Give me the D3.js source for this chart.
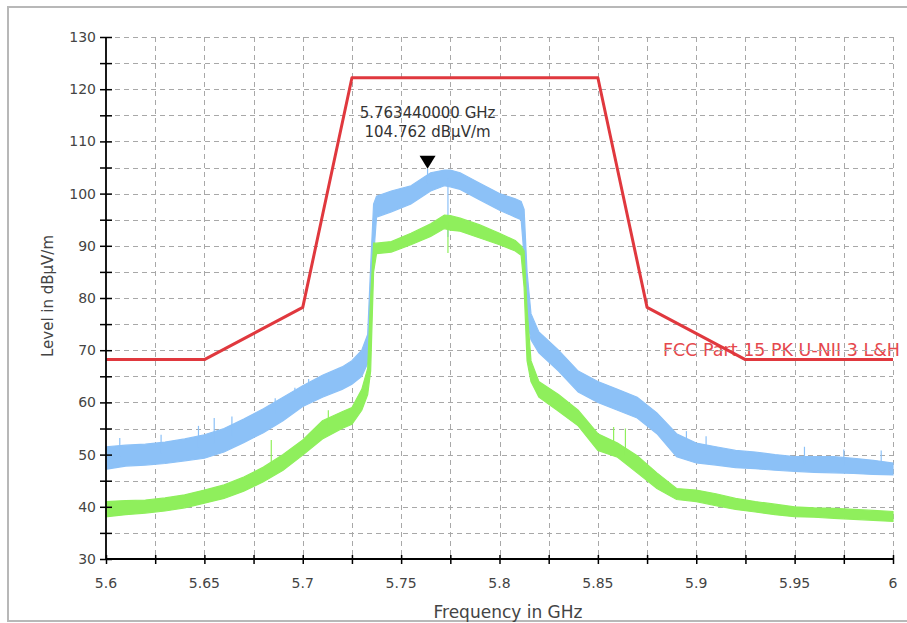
<!DOCTYPE html>
<html><head><meta charset="utf-8">
<script src="https://cdn.jsdelivr.net/npm/d3@7"></script>
<style>html,body{margin:0;padding:0;background:#fff;}svg{display:block;}</style>
</head><body>
<svg id="chart" width="907" height="623"></svg>
<script>
// ---- data ----
const freq = [5.600,5.610,5.620,5.630,5.640,5.650,5.660,5.670,5.680,5.690,5.700,5.710,5.720,5.725,5.730,5.733,5.7345,5.736,5.7375,5.745,5.755,5.765,5.772,5.775,5.780,5.790,5.800,5.808,5.811,5.8125,5.814,5.816,5.820,5.830,5.840,5.850,5.860,5.870,5.880,5.890,5.900,5.910,5.920,5.930,5.940,5.950,5.960,5.970,5.980,5.990,6.000];
const blueLo = [47.2,47.8,48.0,48.3,48.8,49.3,50.5,52.3,54.2,56.5,59.2,61.0,62.5,63.5,65.0,67.5,72.0,88.0,95.5,96.5,98.0,100.5,101.5,101.3,100.8,98.8,96.8,95.5,95.0,88.0,76.0,72.0,69.5,66.0,62.0,60.0,58.5,57.0,54.0,49.6,48.4,48.0,47.5,47.3,47.0,46.8,46.6,46.5,46.4,46.2,46.1];
const blueHi = [51.5,51.8,52.0,52.4,53.0,53.8,55.0,56.8,58.8,61.0,63.2,65.2,66.8,68.0,70.0,73.0,86.0,98.0,99.5,100.5,101.5,104.0,104.5,104.5,104.0,102.0,100.0,99.0,98.5,97.0,85.0,77.0,73.5,70.0,66.0,64.0,62.5,61.0,58.0,54.0,52.2,51.5,50.8,50.5,50.0,49.6,49.6,49.6,49.3,48.9,48.4];
const greenLo = [38.1,38.5,38.8,39.2,39.8,40.7,41.6,43.0,44.8,47.0,49.9,53.0,55.0,55.8,58.5,61.5,66.0,85.0,88.5,88.8,90.2,91.8,93.3,93.0,92.8,91.5,90.2,89.0,88.2,82.0,68.0,64.0,61.0,58.3,55.5,50.8,49.5,46.5,43.5,41.4,41.0,40.2,39.5,39.0,38.5,38.1,38.0,37.8,37.6,37.4,37.2];
const greenHi = [41.0,41.2,41.3,41.7,42.3,43.2,44.2,45.7,47.6,50.0,52.8,56.5,58.2,59.0,62.5,66.5,80.0,90.5,90.5,90.8,92.4,94.2,95.9,95.8,95.3,94.0,92.4,91.0,90.0,89.0,78.0,68.0,64.0,61.5,58.5,54.0,52.2,49.8,46.5,43.5,43.2,42.5,41.6,41.0,40.5,40.0,39.8,39.7,39.5,39.3,39.1];
// isolated spikes: [frequency, extreme value]
const blueSpikes = [[5.607,53.2],[5.628,53.8],[5.647,55.5],[5.655,57.0],[5.664,57.3],[5.686,60.8],[5.696,62.8],[5.703,64.5],[5.76344,104.762],[5.7738,91.7],[5.895,54.5],[5.905,53.5],[5.955,51.5],[5.975,51.0],[5.994,50.8]];
const greenSpikes = [[5.684,52.8],[5.713,58.5],[5.7738,88.6],[5.858,55.3],[5.864,55.0]];
// FCC limit line
const limitFreq = [5.600,5.650,5.700,5.725,5.850,5.875,5.925,6.000];
const limitVal  = [68.2,68.2,78.2,122.2,122.2,78.2,68.2,68.2];
const limitName = "FCC Part 15 PK U-NII 3 L&H";
const marker = {f:5.76344, v:104.762, line1:"5.763440000 GHz", line2:"104.762 dBµV/m"};
const xTickLabels = [5.6,5.65,5.7,5.75,5.8,5.85,5.9,5.95,6];
const yTickLabels = [30,40,50,60,70,80,90,100,110,120,130];
const xTitle = "Frequency in GHz";
const yTitle = "Level in dBµV/m";

// ---- layout ----
const L=106, R=893, T=37, B=559;
const svg = d3.select("#chart");
const x = d3.scaleLinear().domain([5.6,6.0]).range([L,R]);
const y = d3.scaleLinear().domain([30,130]).range([B,T]);
const FONT = "DejaVu Sans, sans-serif";

// frame
svg.append("rect").attr("x",8).attr("y",7).attr("width",1000).attr("height",614)
  .attr("fill","#fff").attr("stroke","#b8b8b8").attr("stroke-width",2);

// limit label (under grid)
svg.append("text").attr("x",663).attr("y",356).text(limitName)
  .attr("font-family",FONT).attr("font-size",17.5).attr("fill","#e5484d");

// grid
const gx = d3.range(0,17).map(i=>5.6+i*0.025);
const gy = d3.range(0,21).map(i=>30+i*5);
const grid = svg.append("g").attr("stroke","#a8a8a8").attr("stroke-width",1).attr("stroke-dasharray","5,4");
grid.selectAll("line.v").data(gx.slice(1)).join("line")
  .attr("x1",d=>Math.round(x(d))+0.5).attr("x2",d=>Math.round(x(d))+0.5).attr("y1",T).attr("y2",B);
grid.selectAll("line.h").data(gy.slice(1)).join("line").attr("class","h")
  .attr("y1",d=>Math.round(y(d))+0.5).attr("y2",d=>Math.round(y(d))+0.5).attr("x1",L).attr("x2",R);

// traces
function band(lo,hi,color){
  const idx = d3.range(freq.length);
  const area = d3.area().x(i=>x(freq[i])).y0(i=>y(lo[i])).y1(i=>y(hi[i]));
  svg.append("path").attr("d",area(idx)).attr("fill",color).attr("stroke",color).attr("stroke-width",1.2);
}
function spikes(list,lo,hi,color){
  svg.append("g").selectAll("line").data(list).join("line")
    .attr("x1",d=>x(d[0])).attr("x2",d=>x(d[0]))
    .attr("y1",d=>{const m=(d3.scaleLinear().domain(freq).range(lo)(d[0])+d3.scaleLinear().domain(freq).range(hi)(d[0]))/2;return y(m);})
    .attr("y2",d=>y(d[1])).attr("stroke",color).attr("stroke-width",1.2);
}
const BLUE="#8cc1f7", GREEN="#8fef5c";
band(blueLo,blueHi,BLUE);
spikes(blueSpikes,blueLo,blueHi,BLUE);
band(greenLo,greenHi,GREEN);
spikes(greenSpikes,greenLo,greenHi,GREEN);

// limit line
svg.append("path").attr("d",d3.line().x((d,i)=>x(limitFreq[i])).y(d=>y(d))(limitVal))
  .attr("fill","none").attr("stroke","#e0383e").attr("stroke-width",3).attr("stroke-linejoin","round");

// marker
const mx=x(marker.f), my=y(marker.v);
svg.append("path").attr("d",d3.line()([[mx-8,my-13],[mx+8,my-13],[mx,my]])+"Z").attr("fill","#000");
svg.append("text").attr("x",mx).attr("y",118).attr("text-anchor","middle").text(marker.line1)
  .attr("font-family",FONT).attr("font-size",15).attr("fill","#333");
svg.append("text").attr("x",mx).attr("y",137).attr("text-anchor","middle").text(marker.line2)
  .attr("font-family",FONT).attr("font-size",15).attr("fill","#333");

// axes
const xAxis = svg.append("g").attr("transform",`translate(0,${B})`)
  .call(d3.axisBottom(x).tickValues(gx).tickSize(5).tickSizeInner(5).tickFormat(()=>""));
xAxis.selectAll(".tick line").attr("y1",-4).attr("y2",5).attr("stroke","#000").attr("stroke-width",1.5);
xAxis.select(".domain").attr("stroke","#000").attr("stroke-width",1.8).attr("d",`M${L},0H${R}`);
const yAxis = svg.append("g").attr("transform",`translate(${L},0)`)
  .call(d3.axisLeft(y).tickValues(gy).tickFormat(()=>""));
yAxis.selectAll(".tick line").attr("x1",-6).attr("x2",6).attr("stroke","#000").attr("stroke-width",1.5);
yAxis.select(".domain").attr("stroke","#000").attr("stroke-width",1.8).attr("d",`M0,${T}V${B}`);

svg.append("g").selectAll("text").data(xTickLabels).join("text")
  .attr("x",d=>x(d)).attr("y",588).attr("text-anchor","middle").text(d=>d3.format("")(d))
  .attr("font-family",FONT).attr("font-size",14).attr("fill","#444");
svg.append("g").selectAll("text").data(yTickLabels).join("text")
  .attr("x",96).attr("y",d=>y(d)+5).attr("text-anchor","end").text(d=>d)
  .attr("font-family",FONT).attr("font-size",14).attr("fill","#444");

svg.append("text").attr("x",508).attr("y",618).attr("text-anchor","middle").text(xTitle)
  .attr("font-family",FONT).attr("font-size",17).attr("fill","#444");
svg.append("text").attr("transform","translate(53,296) rotate(-90)").attr("text-anchor","middle").text(yTitle)
  .attr("font-family",FONT).attr("font-size",15).attr("fill","#444");
</script>
</body></html>
